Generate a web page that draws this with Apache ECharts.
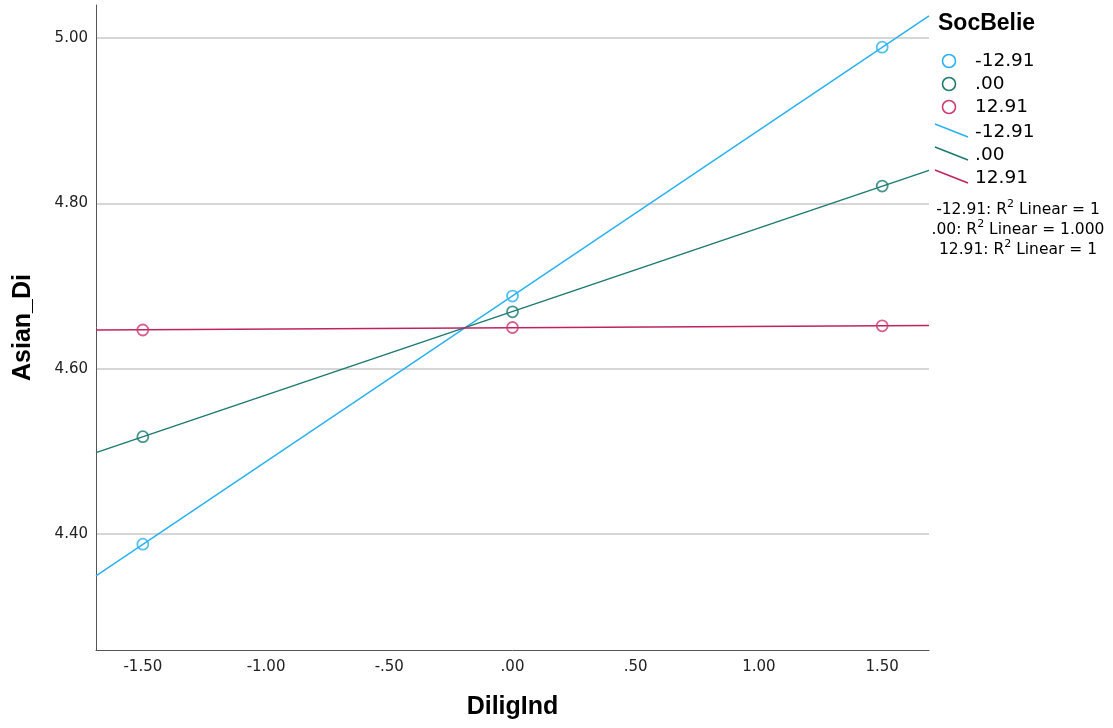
<!DOCTYPE html>
<html><head><meta charset="utf-8">
<script src="https://cdn.jsdelivr.net/npm/echarts@6/dist/echarts.min.js"></script>
<style>html,body{margin:0;padding:0;background:#fff}#c{width:1113px;height:728px}</style>
</head><body><div id="c"></div>
<script>
// ---- data ----
const groups = ['-12.91', '.00', '12.91'];
const xValues = [-1.5, 0, 1.5];
const yLow = [4.388, 4.688, 4.989];   // SocBelie = -12.91
const yMid = [4.518, 4.669, 4.821];   // SocBelie = .00
const yHigh = [4.647, 4.650, 4.652];  // SocBelie = 12.91
const r2Values = ['1', '1.000', '1'];
const xTicks = [-1.5, -1, -0.5, 0, 0.5, 1, 1.5];
const yTicks = [4.4, 4.6, 4.8, 5.0];
const xRange = [-1.69, 1.69];
const yRange = [4.26, 5.04];

const markerColors = ['#2AB1F0', '#1C7A72', '#CC3A72'];
const lineColors = ['#2AB1F0', '#1C7A72', '#C0225F'];
const seriesValues = [yLow, yMid, yHigh];

function fmt(v) {
  let s = Math.abs(v).toFixed(2);
  if (s.startsWith('0')) s = s.slice(1);
  return (v < -1e-9 ? '-' : '') + s;
}
function fit(xs, ys) {
  const n = xs.length;
  const mx = xs.reduce((a, b) => a + b, 0) / n;
  const my = ys.reduce((a, b) => a + b, 0) / n;
  let sxy = 0, sxx = 0;
  for (let i = 0; i < n; i++) { sxy += (xs[i] - mx) * (ys[i] - my); sxx += (xs[i] - mx) ** 2; }
  const b = sxy / sxx, a = my - b * mx;
  return xRange.map(x => [x, a + b * x]);
}

const series = [];
seriesValues.forEach((ys, i) => {
  series.push({
    type: 'line', name: groups[i] + ' fit', data: fit(xValues, ys),
    showSymbol: false, symbol: 'none', silent: true, z: 2,
    lineStyle: { color: lineColors[i], width: 1.5 }
  });
});
seriesValues.forEach((ys, i) => {
  series.push({
    type: 'scatter', name: groups[i], data: xValues.map((x, j) => [x, ys[j]]),
    symbol: 'circle', symbolSize: 11, z: 3,
    itemStyle: { color: 'rgba(255,255,255,0)', borderColor: markerColors[i], borderWidth: 1.8 }
  });
});

const graphic = [];
graphic.push({ type: 'text', left: 938, top: 12,
  style: { text: 'SocBelie', font: 'bold 23px "Liberation Sans", Arial, sans-serif', fill: '#000' } });
groups.forEach((g, i) => {
  const cy = 61 + i * 23;
  graphic.push({ type: 'circle', shape: { cx: 949, cy: cy, r: 6.5 },
    style: { fill: 'none', stroke: markerColors[i], lineWidth: 1.6 } });
  graphic.push({ type: 'text', x: 975, y: cy,
    style: { text: g, font: '18.5px "DejaVu Sans", sans-serif', fill: '#000', verticalAlign: 'middle', align: 'left' } });
});
groups.forEach((g, i) => {
  const y0 = 124 + i * 23;
  graphic.push({ type: 'line', shape: { x1: 935, y1: y0, x2: 968, y2: y0 + 13 },
    style: { stroke: lineColors[i], lineWidth: 1.5 } });
  graphic.push({ type: 'text', x: 975, y: y0 + 8,
    style: { text: g, font: '18.5px "DejaVu Sans", sans-serif', fill: '#000', verticalAlign: 'middle', align: 'left' } });
});
groups.forEach((g, i) => {
  const cy = 208 + i * 20;
  graphic.push({ type: 'text', x: 1018, y: cy,
    style: {
      text: '{a|' + g + ': R}{s|2}{a| Linear = ' + r2Values[i] + '}',
      align: 'center', verticalAlign: 'middle',
      rich: {
        a: { font: '15.5px "DejaVu Sans", sans-serif', fill: '#000', lineHeight: 19, verticalAlign: 'bottom' },
        s: { font: '11px "DejaVu Sans", sans-serif', fill: '#000', lineHeight: 19, verticalAlign: 'top' }
      }
    } });
});

const chart = echarts.init(document.getElementById('c'), null, { renderer: 'canvas' });
chart.setOption({
  animation: false,
  backgroundColor: '#fff',
  grid: { left: 96, right: 184, top: 5, bottom: 78, containLabel: false },
  xAxis: {
    type: 'value', min: xRange[0], max: xRange[1],
    name: 'DiligInd', nameLocation: 'middle', nameGap: 45,
    nameTextStyle: { fontFamily: '"Liberation Sans", Arial, sans-serif', fontWeight: 'bold', fontSize: 25, color: '#000' },
    axisLine: { show: true, onZero: false, lineStyle: { color: '#555', width: 1 } },
    axisTick: { show: false, customValues: xTicks },
    axisLabel: { customValues: xTicks, formatter: v => fmt(v), margin: 10,
      fontFamily: '"DejaVu Sans", sans-serif', fontSize: 15, color: '#222' },
    splitLine: { show: false }
  },
  yAxis: {
    type: 'value', min: yRange[0], max: yRange[1],
    name: 'Asian_Di', nameLocation: 'middle', nameGap: 60, nameRotate: 90,
    nameTextStyle: { fontFamily: '"Liberation Sans", Arial, sans-serif', fontWeight: 'bold', fontSize: 25, color: '#000' },
    axisLine: { show: true, onZero: false, lineStyle: { color: '#555', width: 1 } },
    axisTick: { show: false, customValues: yTicks },
    axisLabel: { customValues: yTicks, formatter: v => v.toFixed(2), margin: 8,
      fontFamily: '"DejaVu Sans", sans-serif', fontSize: 15, color: '#222' },
    splitLine: { show: true, lineStyle: { color: '#C8C8C8', width: 1.5 } }
  },
  series: series,
  graphic: graphic
});
</script>
</body></html>
